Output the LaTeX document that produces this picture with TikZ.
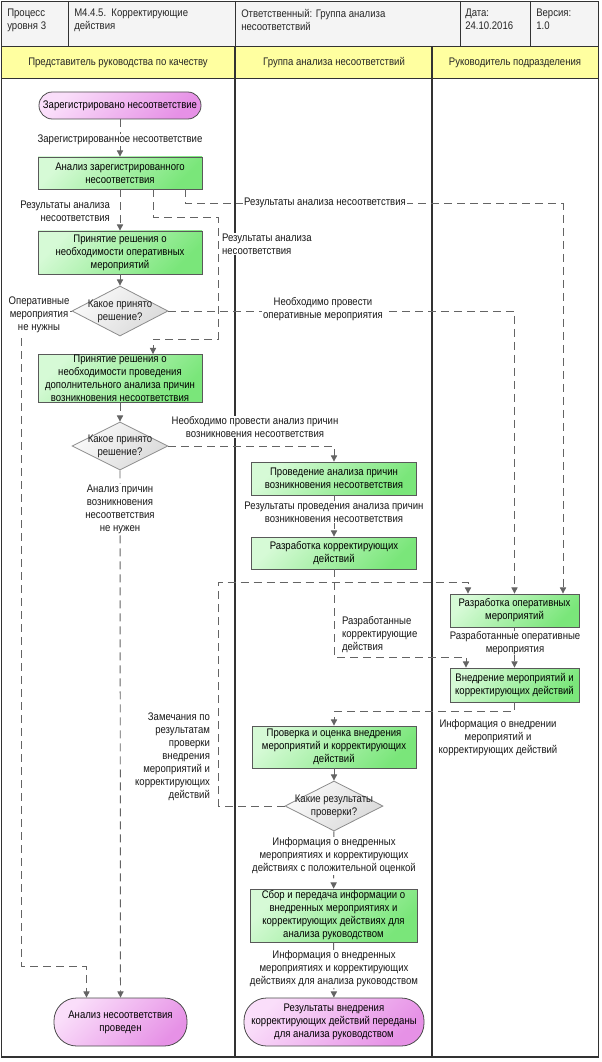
\documentclass[tikz,border=0pt]{standalone}
\usepackage{fontspec}
\setmainfont{Liberation Sans}[FakeStretch=0.87]
\usetikzlibrary{arrows.meta,shapes.geometric}
\pgfdeclarelayer{background}
\pgfsetlayers{background,main}
\def\PX{0.75pt}
\definecolor{gtop}{RGB}{214,250,214}
\definecolor{gbot}{RGB}{122,230,122}
\definecolor{ptop}{RGB}{250,222,250}
\definecolor{pbot}{RGB}{230,145,230}
\definecolor{dtop}{RGB}{250,250,250}
\definecolor{dbot}{RGB}{218,218,218}
\definecolor{hdr}{RGB}{255,255,160}
\definecolor{hrow}{RGB}{244,244,244}
\definecolor{lineg}{RGB}{100,100,100}
\definecolor{frame}{RGB}{50,50,50}
\begin{document}
\begin{tikzpicture}[x=0.75pt,y=-0.75pt,
  font=\fontsize{8.25}{9.75}\selectfont,
  proc/.style={draw=black!65, line width=0.6pt, top color=gtop, bottom color=gbot, shading angle=45, align=center, inner xsep=1pt, inner ysep=0pt},
  term/.style={draw=black!70, line width=0.6pt, top color=ptop, bottom color=pbot, shading angle=45, align=center, inner xsep=2pt, inner ysep=0pt},
  dec/.style={diamond, draw=black!45, line width=0.6pt, top color=dtop, bottom color=dbot, shading angle=45, inner sep=0pt},
  dtext/.style={align=center, inner sep=0pt, text=black!90},
  lbl/.style={fill=white, inner sep=0.6pt, align=center, text=black!90},
  htext/.style={anchor=north west, align=left, inner sep=0pt, text=black!85},
  flow/.style={draw=lineg, line width=0.7pt, dash pattern=on 6pt off 3.75pt, -{Triangle[width=4.6pt,length=4.6pt]}}
]
\useasboundingbox (0,0) rectangle (601,1062);

% ---------- nodes ----------
\node[term, minimum width=162*\PX, minimum height=27*\PX, rounded corners=10pt] (A) at (120,105.5) {Зарегистрировано несоответствие};
\node[proc, minimum width=164*\PX, minimum height=32*\PX] (B) at (120,173) {Анализ зарегистрированного\\несоответствия};
\node[proc, minimum width=164*\PX, minimum height=43*\PX] (C) at (120,252.5) {Принятие решения о\\необходимости оперативных\\мероприятий};
\node[dec, minimum width=96*\PX, minimum height=50*\PX] (D1) at (120,311) {};
\node[dtext] (D1t) at (D1) {Какое принято\\решение?};
\node[proc, minimum width=164*\PX, minimum height=48*\PX] (E) at (120,378.5) {Принятие решения о\\необходимости проведения\\дополнительного анализа причин\\возникновения несоответствия};
\node[dec, minimum width=96*\PX, minimum height=48*\PX] (D2) at (120,446) {};
\node[dtext] (D2t) at (D2) {Какое принято\\решение?};
\node[term, minimum width=133*\PX, minimum height=48*\PX, rounded corners=17pt] (F) at (120.5,1022) {Анализ несоответствия\\проведен};
\node[proc, minimum width=165*\PX, minimum height=33*\PX] (G) at (334,478.5) {Проведение анализа причин\\возникновения несоответствия};
\node[proc, minimum width=165*\PX, minimum height=32*\PX] (H) at (334,553) {Разработка корректирующих\\действий};
\node[proc, minimum width=129*\PX, minimum height=33*\PX] (I) at (514.5,610.5) {Разработка оперативных\\мероприятий};
\node[proc, minimum width=129*\PX, minimum height=34*\PX] (J) at (514.5,685) {Внедрение мероприятий и\\корректирующих действий};
\node[proc, minimum width=164*\PX, minimum height=42*\PX] (K) at (334,747) {Проверка и оценка внедрения\\мероприятий и корректирующих\\действий};
\node[dec, minimum width=98*\PX, minimum height=50*\PX] (D3) at (334,806) {};
\node[dtext] (D3t) at (D3) {Какие результаты\\проверки?};
\node[proc, minimum width=167*\PX, minimum height=53*\PX] (L) at (333.5,915.5) {Сбор и передача информации о\\внедренных мероприятиях и\\корректирующих действиях для\\анализа руководством};
\node[term, minimum width=180*\PX, minimum height=48*\PX, rounded corners=17pt] (M) at (334,1022) {Результаты внедрения\\корректирующих действий переданы\\для анализа руководством};

\coordinate (lc) at (21,966);
\coordinate (tc) at (468,582);

% ---------- connectors ----------
\draw[flow] (A) -- (B);
\draw[flow] (B) -- (C);
\draw[flow] ([xshift=-17*\PX]B.south east) -- ++(0,14) -| ([xshift=48.5*\PX]I.north);
\draw[flow] ([xshift=33*\PX]B.south) -- ++(0,28) -- ++(65,0) -- ++(0,122) -| ([xshift=33*\PX]E.north);
\draw[flow] (C) -- (D1);
\draw[flow] (D1.east) -| (I.north);
\draw[flow] (D1.west) -| (lc) -| ([xshift=-34*\PX]F.north);
\draw[flow] (E) -- (D2);
\draw[flow] (D2.east) -| (G.north);
\draw[flow] (D2) -- (F);
\draw[flow] (G) -- (H);
\draw[flow] (H.south) -- ++(0,88) -| ([xshift=-48.5*\PX]J.north);
\draw[flow] (I) -- (J);
\draw[flow] (J.south) -- ++(0,9) -| (K.north);
\draw[flow] (K) -- (D3);
\draw[flow] (D3.west) -- ++(-66,0) |- (tc) -- ([xshift=-46.5*\PX]I.north);
\draw[flow] (D3) -- (L);
\draw[flow] (L) -- (M);

% ---------- labels ----------
\node[lbl] (l1) at (120,140) {Зарегистрированное несоответствие};
\node[lbl, align=right, anchor=east] (l2) at (111,211) {Результаты анализа\\несоответствия};
\node[lbl] (l3) at (325,203) {Результаты анализа несоответствия};
\node[lbl, align=left, anchor=west] (l4) at (221,244) {Результаты анализа\\несоответствия};
\node[lbl] (l5) at (323,309) {Необходимо провести\\оперативные мероприятия};
\node[lbl] (l6) at (39,315) {Оперативные\\мероприятия\\не нужны};
\node[lbl] (l7) at (255,427) {Необходимо провести анализ причин\\возникновения несоответствия};
\node[lbl] (l8) at (120,509) {Анализ причин\\возникновения\\несоответствия\\не нужен};
\node[lbl] (l9) at (334,512) {Результаты проведения анализа причин\\возникновения несоответствия};
\node[lbl, align=left, anchor=west] (l10) at (341,635) {Разработанные\\корректирующие\\действия};
\node[lbl] (l11) at (515,643) {Разработанные оперативные\\мероприятия};
\node[lbl] (l12) at (498,738) {Информация о внедрении\\мероприятий и\\корректирующих действий};
\node[lbl, align=right, anchor=east] (l13) at (211,757) {Замечания по\\результатам\\проверки\\внедрения\\мероприятий и\\корректирующих\\действий};
\node[lbl] (l14) at (334,856) {Информация о внедренных\\мероприятиях и корректирующих\\действиях с положительной оценкой};
\node[lbl] (l15) at (334,969) {Информация о внедренных\\мероприятиях и корректирующих\\действиях для анализа руководством};

% ---------- frame, header, lanes ----------
\begin{pgfonlayer}{background}
\fill[white] (0,0) rectangle (601,1062);
\fill[hrow] (1,1) rectangle (599,47);
\fill[hdr] (1,47) rectangle (599,79);
\draw[frame, line width=0.75pt] (1,47) -- (599,47);
\draw[frame, line width=0.75pt] (1,79) -- (599,79);
\draw[frame, line width=0.75pt] (68,1) -- (68,47);
\draw[frame, line width=0.75pt] (460,1) -- (460,47);
\draw[frame, line width=0.75pt] (530,1) -- (530,47);
\draw[frame, line width=0.75pt] (235,1) -- (235,47);
\draw[frame, line width=1.4pt] (235,47) -- (235,1057);
\draw[frame, line width=1.4pt] (432,47) -- (432,1057);
\draw[frame, line width=1.4pt] (1.5,1.5) rectangle (598.5,1057);
\end{pgfonlayer}
\node[htext] (h1) at (7,9) {Процесс\\уровня 3};
\node[htext] (h2) at (74,9) {М4.4.5.\ \ Корректирующие\\действия};
\node[htext] (h3) at (241,9) {Ответственный: Группа анализа\\несоответствий};
\node[htext] (h4) at (465,9) {Дата:\\24.10.2016};
\node[htext] (h5) at (536,9) {Версия:\\1.0};
\node[text=black!85, inner sep=0pt] (lh1) at (118,63) {Представитель руководства по качеству};
\node[text=black!85, inner sep=0pt] (lh2) at (334,63) {Группа анализа несоответствий};
\node[text=black!85, inner sep=0pt] (lh3) at (515,63) {Руководитель подразделения};
\end{tikzpicture}
\end{document}
